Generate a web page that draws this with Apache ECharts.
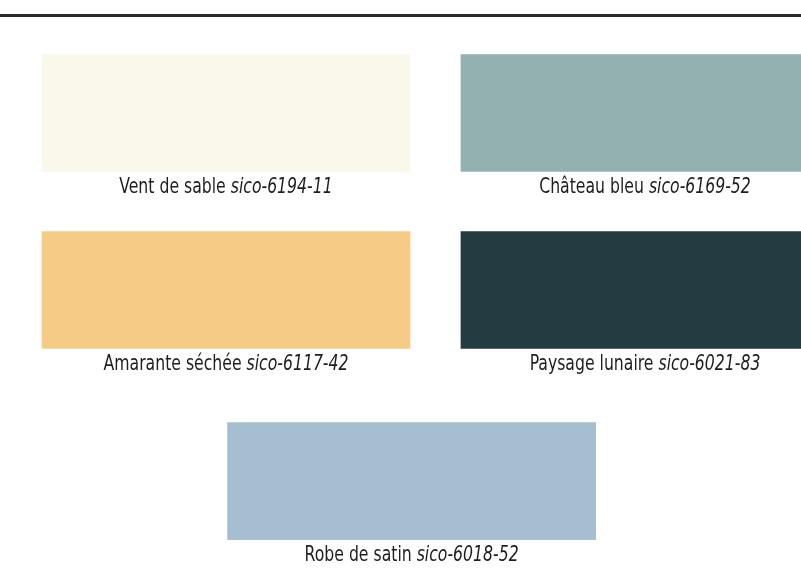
<!DOCTYPE html>
<html><head><meta charset="utf-8">
<script src="https://cdn.jsdelivr.net/npm/echarts@6/dist/echarts.min.js"></script>
<style>html,body{margin:0;padding:0;background:#fff}#c{width:801px;height:580px}</style>
</head><body><div id="c"></div>
<script>
const names = ['Vent de sable', 'Château bleu', 'Amarante séchée', 'Paysage lunaire', 'Robe de satin'];
const codes = ['sico-6194-11', 'sico-6169-52', 'sico-6117-42', 'sico-6021-83', 'sico-6018-52'];
const colors = ['#FAF8EB', '#94B1B2', '#F6CB85', '#233B41', '#A5BED0'];
const slotCol = [0, 1, 0, 1, 0.443];
const slotRow = [0, 0, 1, 1, 2.08];

const data = names.map((n, i) => ({ value: [slotCol[i], slotRow[i]], name: n }));
const FONT = '"DejaVu Sans Condensed", "DejaVu Sans", sans-serif';

const chart = echarts.init(document.getElementById('c'), null, { renderer: 'canvas' });
chart.setOption({
  backgroundColor: '#ffffff',
  animation: false,
  graphic: [{
    type: 'rect', left: 0, top: 14, shape: { width: 801, height: 3 },
    style: { fill: '#2b2b2b' }
  }],
  grid: { left: 226, right: 156, top: 113, bottom: 290 },
  xAxis: { type: 'value', min: 0, max: 1, show: false },
  yAxis: { type: 'value', min: 0, max: 1, inverse: true, show: false },
  series: [{
    type: 'custom',
    clip: false,
    data: data,
    renderItem: function (params, api) {
      const i = params.dataIndex;
      const c = api.coord([api.value(0), api.value(1)]);
      const s = api.size([0.88, 0.665]);
      const w = s[0], h = s[1];
      return {
        type: 'group',
        children: [{
          type: 'rect',
          shape: { x: c[0] - w / 2, y: c[1] - h / 2, width: w, height: h },
          style: { fill: colors[i] }
        }, {
          type: 'text',
          x: c[0], y: c[1] + h / 2 + 16,
          scaleX: 0.83,
          style: {
            text: '{a|' + names[i] + ' }{b|' + codes[i] + '}',
            align: 'center', verticalAlign: 'middle',
            fill: '#1e1e1e',
            rich: {
              a: { fontFamily: FONT, fontSize: 21, color: '#1e1e1e' },
              b: { fontFamily: FONT, fontSize: 21, fontStyle: 'italic', color: '#1e1e1e' }
            }
          }
        }]
      };
    }
  }]
});
</script>
</body></html>
